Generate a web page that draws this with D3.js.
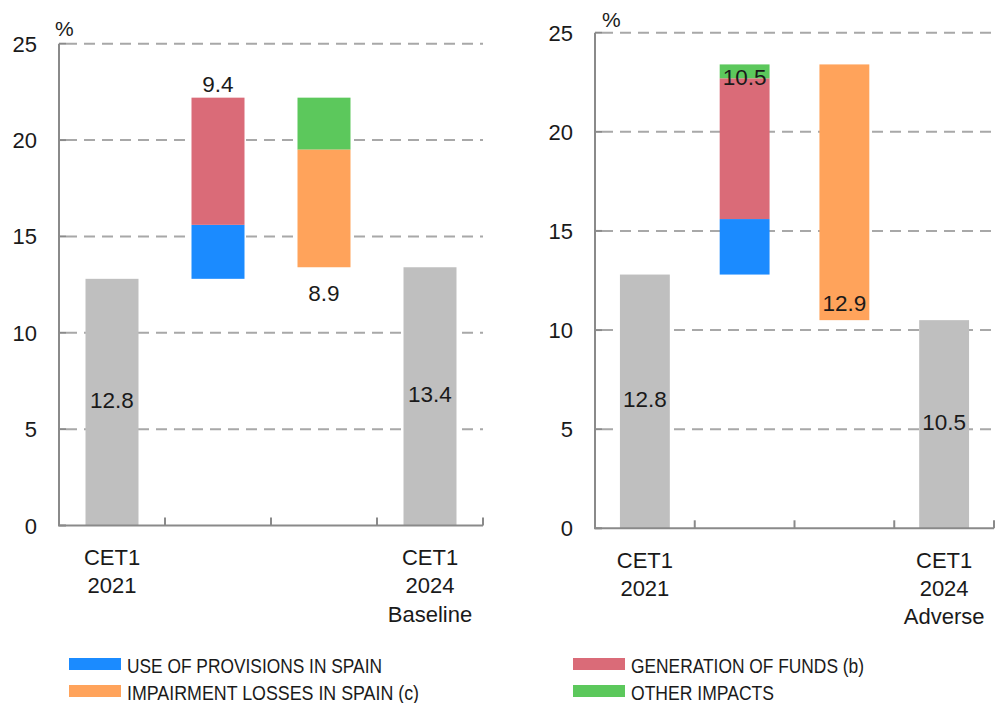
<!DOCTYPE html>
<html>
<head>
<meta charset="utf-8">
<script src="https://cdn.jsdelivr.net/npm/d3@7/dist/d3.min.js"></script>
<style>
  html, body { margin: 0; padding: 0; background: #fff; }
  svg { display: block; }
  text { font-family: "Liberation Sans", Arial, Helvetica, sans-serif; fill: #1a1a1a; }
</style>
</head>
<body>
<svg id="chart" width="996" height="703"></svg>
<script>
// ---------------- DATA ----------------
const seriesNames = ["USE OF PROVISIONS IN SPAIN", "GENERATION OF FUNDS (b)", "IMPAIRMENT LOSSES IN SPAIN (c)", "OTHER IMPACTS"];
const seriesColors = ["#1b8bff", "#da6b78", "#ffa35b", "#5cc85c"];
const yTicks = [0, 5, 10, 15, 20, 25];
const unitLabel = "%";

const baselineCategories = [["CET1", "2021"], [], [], ["CET1", "2024", "Baseline"]];
const adverseCategories  = [["CET1", "2021"], [], [], ["CET1", "2024", "Adverse"]];

const baselineCET1 = [12.8, 13.4];          // start, end
const adverseCET1  = [12.8, 10.5];

// waterfall steps: [bar index, series index, value] in stacking order
const baselineSteps = [[1, 0, 2.8], [1, 1, 6.6], [2, 3, -2.7], [2, 2, -6.1]];
const adverseSteps  = [[1, 0, 2.8], [1, 1, 7.1], [1, 3, 0.7], [2, 2, -12.9]];

const baselineStepLabels = ["9.4", "8.9"];   // bar 1, bar 2
const adverseStepLabels  = ["10.5", "12.9"];

// ---------------- LAYOUT ----------------
const svg = d3.select("#chart");
const panels = [
  { cats: baselineCategories, cet1: baselineCET1, steps: baselineSteps, stepLabels: baselineStepLabels,
    x0: 59, x1: 483, yTop: 43.7, yBottom: 525.5, labelMode: "outside", pct: [55, 36] },
  { cats: adverseCategories, cet1: adverseCET1, steps: adverseSteps, stepLabels: adverseStepLabels,
    x0: 595, x1: 994, yTop: 32.7, yBottom: 528.3, labelMode: "inside", pct: [602, 27] }
];

const axisColor = "#8a8a8a";
const gridColor = "#a8a8a8";
const fsTick = 22, fsVal = 22.5, fsCat = 22;

panels.forEach(p => {
  const g = svg.append("g");
  const x = d3.scaleBand().domain([0, 1, 2, 3]).range([p.x0, p.x1]).paddingInner(0.5).paddingOuter(0.25);
  const y = d3.scaleLinear().domain([0, 25]).range([p.yBottom, p.yTop]);
  const step = x.step();

  // gridlines
  g.selectAll("line.grid").data(yTicks.filter(t => t > 0)).join("line")
    .attr("x1", p.x0 + 7).attr("x2", p.x1)
    .attr("y1", d => y(d)).attr("y2", d => y(d))
    .attr("stroke", gridColor).attr("stroke-width", 2).attr("stroke-dasharray", "11,7");

  // CET1 bars
  const cetBars = [{ i: 0, v: p.cet1[0] }, { i: 3, v: p.cet1[1] }];
  g.selectAll("rect.cet").data(cetBars).join("rect")
    .attr("x", d => x(d.i)).attr("width", x.bandwidth())
    .attr("y", d => y(d.v)).attr("height", d => y(0) - y(d.v))
    .attr("fill", "#bfbfbf");

  // waterfall segments
  let level = p.cet1[0];
  const segs = p.steps.map(([bi, si, v]) => {
    const a = level, b = level + v;
    level = b;
    return { bi, si, lo: Math.min(a, b), hi: Math.max(a, b) };
  });
  g.selectAll("rect.seg").data(segs).join("rect")
    .attr("x", d => x(d.bi)).attr("width", x.bandwidth())
    .attr("y", d => y(d.hi)).attr("height", d => y(d.lo) - y(d.hi))
    .attr("fill", d => seriesColors[d.si]);

  // step labels
  [1, 2].forEach((bi, k) => {
    const s = segs.filter(d => d.bi === bi);
    const top = d3.max(s, d => d.hi), bot = d3.min(s, d => d.lo);
    let yy;
    if (k === 0) yy = p.labelMode === "outside" ? y(top) - 6 : y(top) + 21;
    else yy = p.labelMode === "outside" ? y(bot) + 34 : y(bot) - 9;
    g.append("text").attr("x", x(bi) + x.bandwidth() / 2).attr("y", yy)
      .attr("text-anchor", "middle").attr("font-size", fsVal).text(p.stepLabels[k]);
  });

  // CET1 labels
  g.selectAll("text.cetl").data(cetBars).join("text")
    .attr("x", d => x(d.i) + x.bandwidth() / 2)
    .attr("y", d => y(d.v / 2) + 6)
    .attr("text-anchor", "middle").attr("font-size", fsVal)
    .text(d => d.v.toFixed(1));

  // axes
  g.append("line").attr("x1", p.x0).attr("x2", p.x0).attr("y1", y(25)).attr("y2", y(0))
    .attr("stroke", axisColor).attr("stroke-width", 2);
  g.append("line").attr("x1", p.x0 - 1).attr("x2", p.x1).attr("y1", y(0)).attr("y2", y(0))
    .attr("stroke", axisColor).attr("stroke-width", 2);
  g.selectAll("line.yt").data(yTicks).join("line")
    .attr("x1", p.x0).attr("x2", p.x0 + 7).attr("y1", d => y(d)).attr("y2", d => y(d))
    .attr("stroke", axisColor).attr("stroke-width", 2);
  g.selectAll("line.xt").data([1, 2, 3, 4]).join("line")
    .attr("x1", d => p.x0 + d * step).attr("x2", d => p.x0 + d * step)
    .attr("y1", y(0)).attr("y2", y(0) - 8)
    .attr("stroke", axisColor).attr("stroke-width", 2);

  // y tick labels
  g.selectAll("text.ytl").data(yTicks).join("text")
    .attr("x", p.x0 - 22).attr("y", d => y(d) + 8)
    .attr("text-anchor", "end").attr("font-size", fsTick).text(d => d);

  // unit
  g.append("text").attr("x", p.pct[0]).attr("y", p.pct[1]).attr("font-size", 21).text(unitLabel);

  // category labels
  p.cats.forEach((lines, i) => {
    lines.forEach((t, j) => {
      g.append("text").attr("x", x(i) + x.bandwidth() / 2).attr("y", p.yBottom + 39.5 + j * 28.3)
        .attr("text-anchor", "middle").attr("font-size", fsCat).text(t);
    });
  });
});

// ---------------- LEGEND ----------------
const legendPos = [[69, 658], [573, 658], [69, 685], [573, 685]];
const legendOrder = [0, 1, 2, 3];
const legendWidths = [255, 233, 292, 143];
const lg = svg.append("g");
legendOrder.forEach((si, k) => {
  const [lx, ly] = legendPos[k];
  lg.append("rect").attr("x", lx).attr("y", ly).attr("width", 52).attr("height", 12).attr("fill", seriesColors[si]);
  lg.append("text").attr("x", lx + 58).attr("y", ly + 14.5)
    .attr("font-size", 20.5)
    .attr("font-family", "'Liberation Sans Narrow', 'Arial Narrow', 'Liberation Sans', Arial, sans-serif")
    .attr("textLength", legendWidths[k]).attr("lengthAdjust", "spacingAndGlyphs")
    .text(seriesNames[si]);
});
</script>
</body>
</html>
